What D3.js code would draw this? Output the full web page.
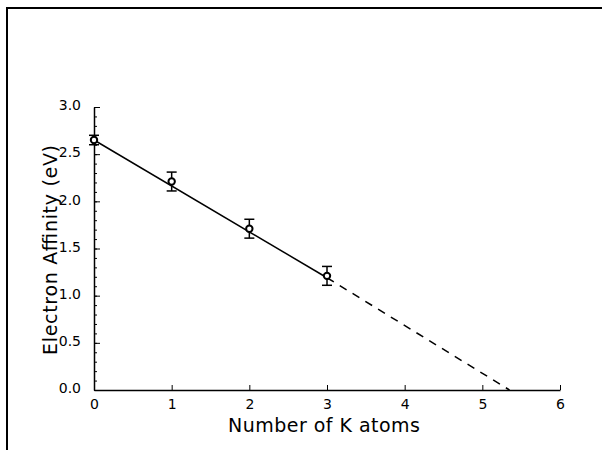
<!DOCTYPE html>
<html>
<head>
<meta charset="utf-8">
<script src="https://cdn.jsdelivr.net/npm/d3@7"></script>
<style>
	body { margin: 0; background: #fff; }
	text { font-family: "DejaVu Sans", "Liberation Sans", sans-serif; fill: #000; }
</style>
</head>
<body>
<div id="chart"></div>
<script>
// measured electron affinities
var atoms = [0, 1, 2, 3];
var affinity = [2.65, 2.21, 1.71, 1.21];
var errors = [0.05, 0.1, 0.1, 0.1];
// fit line: solid through the data, dashed extrapolation to zero
var fitX = [0, 3, 5.35];
var fitY = [2.65, 1.19, 0];
var xTicks = [0, 1, 2, 3, 4, 5, 6];
var yTicks = [0, 0.5, 1, 1.5, 2, 2.5, 3];

var width = 602, height = 450;
var margin = {top: 107, right: 42, bottom: 60, left: 94};

var svg = d3.select("#chart").append("svg")
	.attr("width", width)
	.attr("height", height);

// page frame (top and left edges only)
svg.append("path")
	.attr("d", "M7,450V8H602")
	.attr("fill", "none")
	.attr("stroke", "#000")
	.attr("stroke-width", 2);

var x = d3.scaleLinear().domain([0, 6]).range([margin.left, width - margin.right]);
var y = d3.scaleLinear().domain([0, 3]).range([height - margin.bottom, margin.top]);

var g = svg.append("g");

// x axis, ticks point inward
var xAxis = d3.axisBottom(x)
	.tickValues(xTicks)
	.tickFormat(d3.format("d"))
	.tickSizeInner(-5)
	.tickSizeOuter(0)
	.tickPadding(9);
var gx = g.append("g")
	.attr("transform", "translate(0," + y(0) + ")")
	.call(xAxis);
gx.select(".domain").attr("stroke-width", 1.5);
gx.selectAll(".tick text").attr("font-size", 14);

// y axis minor ticks
var yMinor = d3.range(0, 3.01, 0.1);
g.append("g")
	.attr("transform", "translate(" + x(0) + ",0)")
	.call(d3.axisLeft(y).tickValues(yMinor).tickSizeInner(-3).tickSizeOuter(0).tickFormat(""))
	.select(".domain").remove();

var yAxis = d3.axisLeft(y)
	.tickValues(yTicks)
	.tickFormat(d3.format(".1f"))
	.tickSizeInner(-6)
	.tickSizeOuter(0)
	.tickPadding(13);
var gy = g.append("g")
	.attr("transform", "translate(" + x(0) + ",0)")
	.call(yAxis);
gy.select(".domain").attr("stroke-width", 1.5);
gy.selectAll(".tick text").attr("font-size", 14).attr("dy", "0.2em");

// axis titles
svg.append("text")
	.attr("x", 324)
	.attr("y", 432)
	.attr("text-anchor", "middle")
	.attr("font-size", 19)
	.attr("textLength", 192)
	.text("Number of K atoms");

svg.append("text")
	.attr("transform", "translate(57,250) rotate(-90)")
	.attr("text-anchor", "middle")
	.attr("font-size", 19)
	.attr("textLength", 210)
	.text("Electron Affinity (eV)");

// fit line
var line = d3.line().x(function(d) { return x(d[0]); }).y(function(d) { return y(d[1]); });
var fitPts = fitX.map(function(v, i) { return [v, fitY[i]]; });

g.append("path")
	.attr("d", line(fitPts.slice(0, 2)))
	.attr("fill", "none")
	.attr("stroke", "#000")
	.attr("stroke-width", 1.5);
g.append("path")
	.attr("d", line(fitPts.slice(1)))
	.attr("fill", "none")
	.attr("stroke", "#000")
	.attr("stroke-width", 1.5)
	.attr("stroke-dasharray", "8,7");

// error bars and points
var pts = atoms.map(function(a, i) { return {n: a, v: affinity[i], e: errors[i]}; });
var eb = g.selectAll(".err").data(pts).enter().append("g").attr("class", "err");
eb.append("line")
	.attr("x1", function(d) { return x(d.n); })
	.attr("x2", function(d) { return x(d.n); })
	.attr("y1", function(d) { return y(d.v + d.e); })
	.attr("y2", function(d) { return y(d.v - d.e); })
	.attr("stroke", "#000").attr("stroke-width", 1.5);
[1, -1].forEach(function(s) {
	eb.append("line")
		.attr("x1", function(d) { return x(d.n) - 5; })
		.attr("x2", function(d) { return x(d.n) + 5; })
		.attr("y1", function(d) { return y(d.v + s * d.e); })
		.attr("y2", function(d) { return y(d.v + s * d.e); })
		.attr("stroke", "#000").attr("stroke-width", 1.5);
});
g.selectAll(".pt").data(pts).enter().append("circle")
	.attr("class", "pt")
	.attr("cx", function(d) { return x(d.n); })
	.attr("cy", function(d) { return y(d.v); })
	.attr("r", 3.2)
	.attr("fill", "#fff")
	.attr("stroke", "#000")
	.attr("stroke-width", 2);
</script>
</body>
</html>
